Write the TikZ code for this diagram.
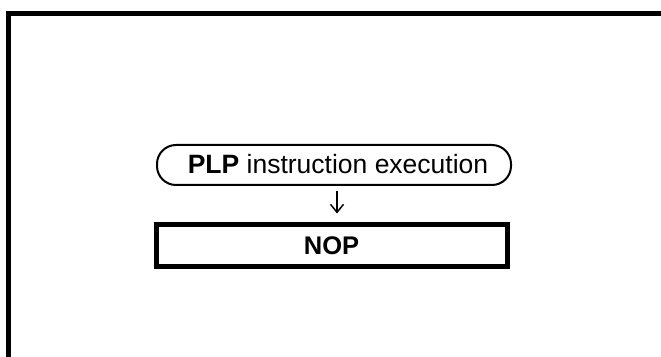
\documentclass[tikz,border=0pt]{standalone}
\usepackage{fontspec}
\setmainfont{Liberation Sans}
\usetikzlibrary{arrows.meta}
\begin{document}
\begin{tikzpicture}[x=1pt,y=1pt,
  terminal/.style={draw,line width=2pt,rounded corners=19pt,minimum width=354pt,minimum height=40pt,inner sep=0pt},
  ttext/.style={inner sep=0pt,font=\fontsize{26.5}{30}\selectfont},
  opbox/.style={draw,line width=5pt,minimum width=351pt,minimum height=42pt,inner sep=0pt,font=\fontsize{25.5}{30}\selectfont\bfseries},
  flow/.style={line width=1.5pt,-{Straight Barb[length=8pt,width=13pt,line width=1.5pt]}}]
\useasboundingbox (0,0) rectangle (661,356);
\clip (0,0) rectangle (661,356);
\draw[line width=5pt] (8.5,342.5) rectangle (680,-20);
\node[terminal] (t) at (334,191) {};
\node[ttext] (tl) at (338,192) {\textbf{PLP} instruction execution};
\node[opbox] (b) at (331.5,110) {NOP};
\draw[flow,shorten <=5pt,shorten >=9pt] (t.south -| 337,0) -- (b.north -| 337,0);
\end{tikzpicture}
\end{document}
